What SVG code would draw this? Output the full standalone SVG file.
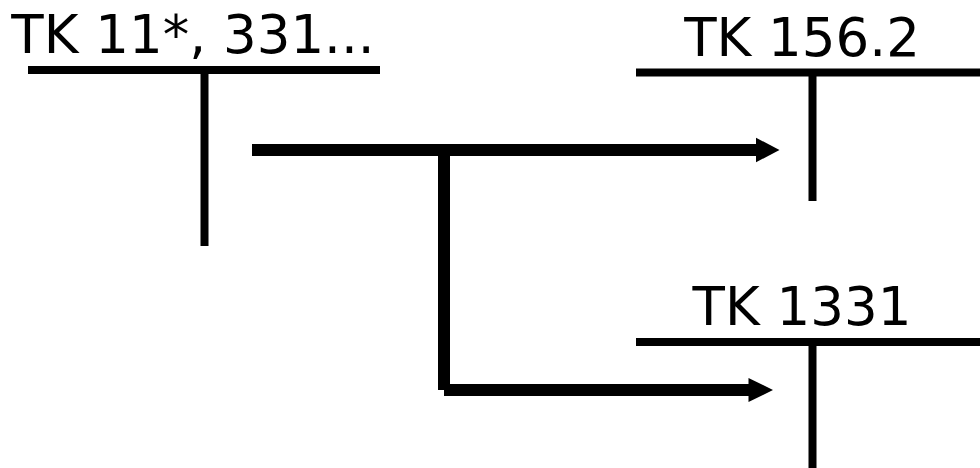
<svg xmlns="http://www.w3.org/2000/svg" width="980" height="468" viewBox="0 0 980 468">
<style>
.lbl{font-family:"DejaVu Sans","Liberation Sans",sans-serif;font-size:53px;fill:#000;text-anchor:middle}
.bar{stroke:#000;stroke-width:8;fill:none}
.stem{stroke:#000;stroke-width:8;fill:none}
.flow{stroke:#000;stroke-width:12;fill:none}
.head{fill:#000}
</style>
<rect width="980" height="468" fill="#fff"/>
<g id="node-tk11">
<text class="lbl" x="193" y="53">TK 11*, 331...</text>
<line class="bar" x1="28" y1="70" x2="380" y2="70"/>
<line class="stem" x1="204.5" y1="70" x2="204.5" y2="246"/>
</g>
<g id="node-tk156">
<text class="lbl" x="802" y="56">TK 156.2</text>
<line class="bar" x1="636" y1="72.5" x2="980" y2="72.5"/>
<line class="stem" x1="812.5" y1="72.5" x2="812.5" y2="201"/>
</g>
<g id="node-tk1331">
<text class="lbl" x="802" y="325">TK 1331</text>
<line class="bar" x1="636" y1="342" x2="980" y2="342"/>
<line class="stem" x1="812.5" y1="342" x2="812.5" y2="468"/>
</g>
<g id="connectors">
<line class="flow" x1="252" y1="150" x2="757" y2="150"/>
<polygon class="head" points="756,137.7 779.5,150 756,162.3"/>
<line class="flow" x1="444" y1="150" x2="444" y2="390"/>
<line class="flow" x1="444" y1="390" x2="750" y2="390"/>
<polygon class="head" points="748.5,378 773,390 748.5,402"/>
</g>
</svg>
